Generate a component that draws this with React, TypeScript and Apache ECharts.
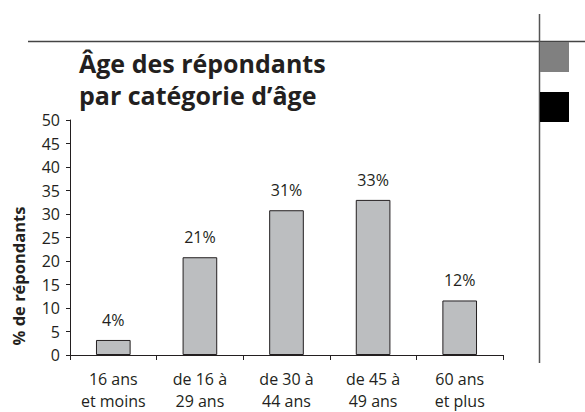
import React, { useEffect, useRef } from "react";
import * as echarts from "echarts";

const categories = ["16 ans\net moins", "de 16 à\n29 ans", "de 30 à\n44 ans", "de 45 à\n49 ans", "60 ans\net plus"];
const barValues = [3.2, 20.8, 30.8, 33.0, 11.6];
const barLabels = ["4%", "21%", "31%", "33%", "12%"];
const yTicks = { min: 0, max: 50, interval: 5 };
const titleLines = ["Âge des répondants", "par catégorie d’âge"];
const yAxisName = "% de répondants";

const FONT = "'Open Sans', 'Noto Sans', sans-serif";
const TEXT = "#231f20";

export default function App() {
  const ref = useRef<HTMLDivElement>(null);
  useEffect(() => {
    if (!ref.current) return;
    const chart = echarts.init(ref.current, undefined, { renderer: "svg" });
    chart.setOption({
      animation: false,
      textStyle: { fontFamily: FONT, color: TEXT },
      grid: { left: 70, top: 120, right: 82, bottom: 55, containLabel: false },
      xAxis: {
        type: "category",
        data: categories,
        axisLine: { show: true, lineStyle: { color: TEXT, width: 1 } },
        axisTick: { show: true, alignWithLabel: false, length: 5, lineStyle: { color: TEXT } },
        axisLabel: { fontSize: 16, lineHeight: 22, color: TEXT, margin: 13, fontFamily: FONT, interval: 0 },
      },
      yAxis: {
        type: "value",
        min: yTicks.min,
        max: yTicks.max,
        interval: yTicks.interval,
        axisLine: { show: true, lineStyle: { color: TEXT, width: 1 } },
        axisTick: { show: true, length: 4, lineStyle: { color: TEXT } },
        axisLabel: { fontSize: 16, color: TEXT, margin: 10, fontFamily: FONT },
        splitLine: { show: false },
      },
      series: [
        {
          type: "bar",
          data: barValues,
          barWidth: "40%",
          itemStyle: { color: "#bcbec0", borderColor: TEXT, borderWidth: 1 },
          label: {
            show: true,
            position: "top",
            distance: 12,
            fontSize: 16,
            color: TEXT,
            fontFamily: FONT,
            formatter: (p: any) => barLabels[p.dataIndex],
          },
        },
      ],
      graphic: [
        { type: "line", shape: { x1: 28, y1: 41.5, x2: 585, y2: 41.5 }, style: { stroke: "#444", lineWidth: 1.5 } },
        { type: "line", shape: { x1: 539.5, y1: 14, x2: 539.5, y2: 363 }, style: { stroke: "#555", lineWidth: 1.5 } },
        { type: "rect", shape: { x: 540, y: 42, width: 29, height: 30 }, style: { fill: "#808080" } },
        { type: "rect", shape: { x: 540, y: 92, width: 29, height: 30 }, style: { fill: "#000000" } },
        {
          type: "text",
          x: 79,
          y: 47,
          style: {
            text: titleLines.join("\n"),
            font: `bold 25px ${FONT}`,
            lineHeight: 32,
            fill: TEXT,
          },
        },
        {
          type: "text",
          x: 18,
          y: 276,
          rotation: Math.PI / 2,
          style: {
            text: yAxisName,
            font: `bold 16.5px ${FONT}`,
            fill: TEXT,
            align: "center",
            verticalAlign: "middle",
          },
        },
      ],
    });
    return () => chart.dispose();
  }, []);
  return (
    <div style={{ position: "absolute", left: 0, top: 0, width: 585, height: 412, background: "#fff" }}>
      <div ref={ref} style={{ width: 585, height: 412 }} />
    </div>
  );
}
